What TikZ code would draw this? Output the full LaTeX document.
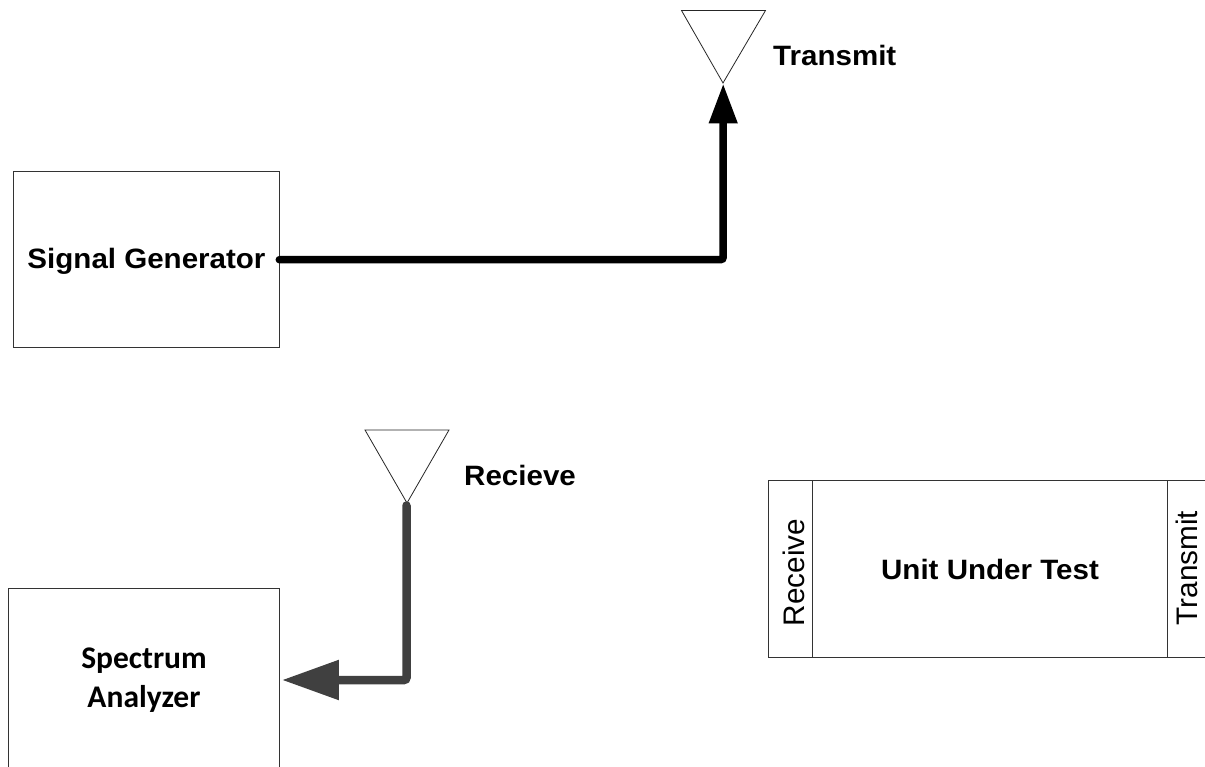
\documentclass[tikz,border=0pt]{standalone}
\usepackage{fontspec}
\setmainfont{Liberation Sans}
\newfontfamily\widebf[FakeStretch=1.055]{Liberation Sans}
\newfontfamily\carl{Carlito}
\usetikzlibrary{arrows.meta,calc}
\definecolor{wiregrey}{HTML}{404040}
\tikzset{
  blockbox/.style={draw=black!80,line width=0.9pt,inner sep=0pt,outer sep=0pt,anchor=north west},
  boldlabel/.style={font=\fontsize{28}{32}\selectfont\widebf\bfseries,inner sep=0pt},
  portlabel/.style={font=\fontsize{29.7}{34}\selectfont,inner sep=0pt,rotate=90},
  antennashape/.style={draw=black!85,line width=0.8pt,fill=white,line join=miter},
  txwire/.style={line width=7.5pt,black,rounded corners=2.5pt,line cap=round,-{Triangle[length=40pt,width=27pt]}},
  rxwire/.style={line width=8.5pt,color=wiregrey,rounded corners=2.5pt,line cap=round,-{Triangle[length=57pt,width=38pt]}}
}
\begin{document}
\begin{tikzpicture}[x=1pt,y=-1pt]
\useasboundingbox (0,0) rectangle (1205,767);
\clip (0,0) rectangle (1205,767);
% boxes
\node[blockbox,minimum width=266pt,minimum height=176pt] (gen) at (13.3,171.7) {};
\node[blockbox,minimum width=270.6pt,minimum height=183.4pt] (sa) at (8.7,588.3) {};
\node[blockbox,minimum width=460pt,minimum height=176.6pt] (uut) at (768,480.7) {};
\draw[draw=black!80,line width=0.9pt] (812,480.7) -- (812,657.3);
\draw[draw=black!80,line width=0.9pt] (1167.3,480.7) -- (1167.3,657.3);
% antennas
\coordinate (txtip) at (723.2,83.5);
\coordinate (rxtip) at (407,503);
\coordinate (rxstart) at (406.5,505.5);
\draw[antennashape] (681.5,10.5) -- (765.5,10.5) -- (723,83) -- cycle;
\draw[antennashape] (365,430) -- (449,430) -- (rxtip) -- cycle;
% connectors
\draw[txwire] (gen.east) -| (txtip);
\draw[rxwire] (rxstart) |- ($(sa.east)+(2.6,0)$);
% labels
\node[boldlabel] (gl) at (146.5,261) {Signal Generator};
\node[boldlabel,font=\fontsize{31.5}{38.5}\selectfont\bfseries\carl,align=center] (sl) at (144,680) {Spectrum\\Analyzer};
\node[boldlabel,anchor=west] (tl) at (773,55) {Transmit};
\node[boldlabel,anchor=west] (rl) at (464,475) {Recieve};
\node[boldlabel] (ul) at (990,569) {Unit Under Test};
\node[portlabel] (pr) at (794,572.5) {Receive};
\node[portlabel] (pt) at (1187,568) {Transmit};
\end{tikzpicture}
\end{document}
